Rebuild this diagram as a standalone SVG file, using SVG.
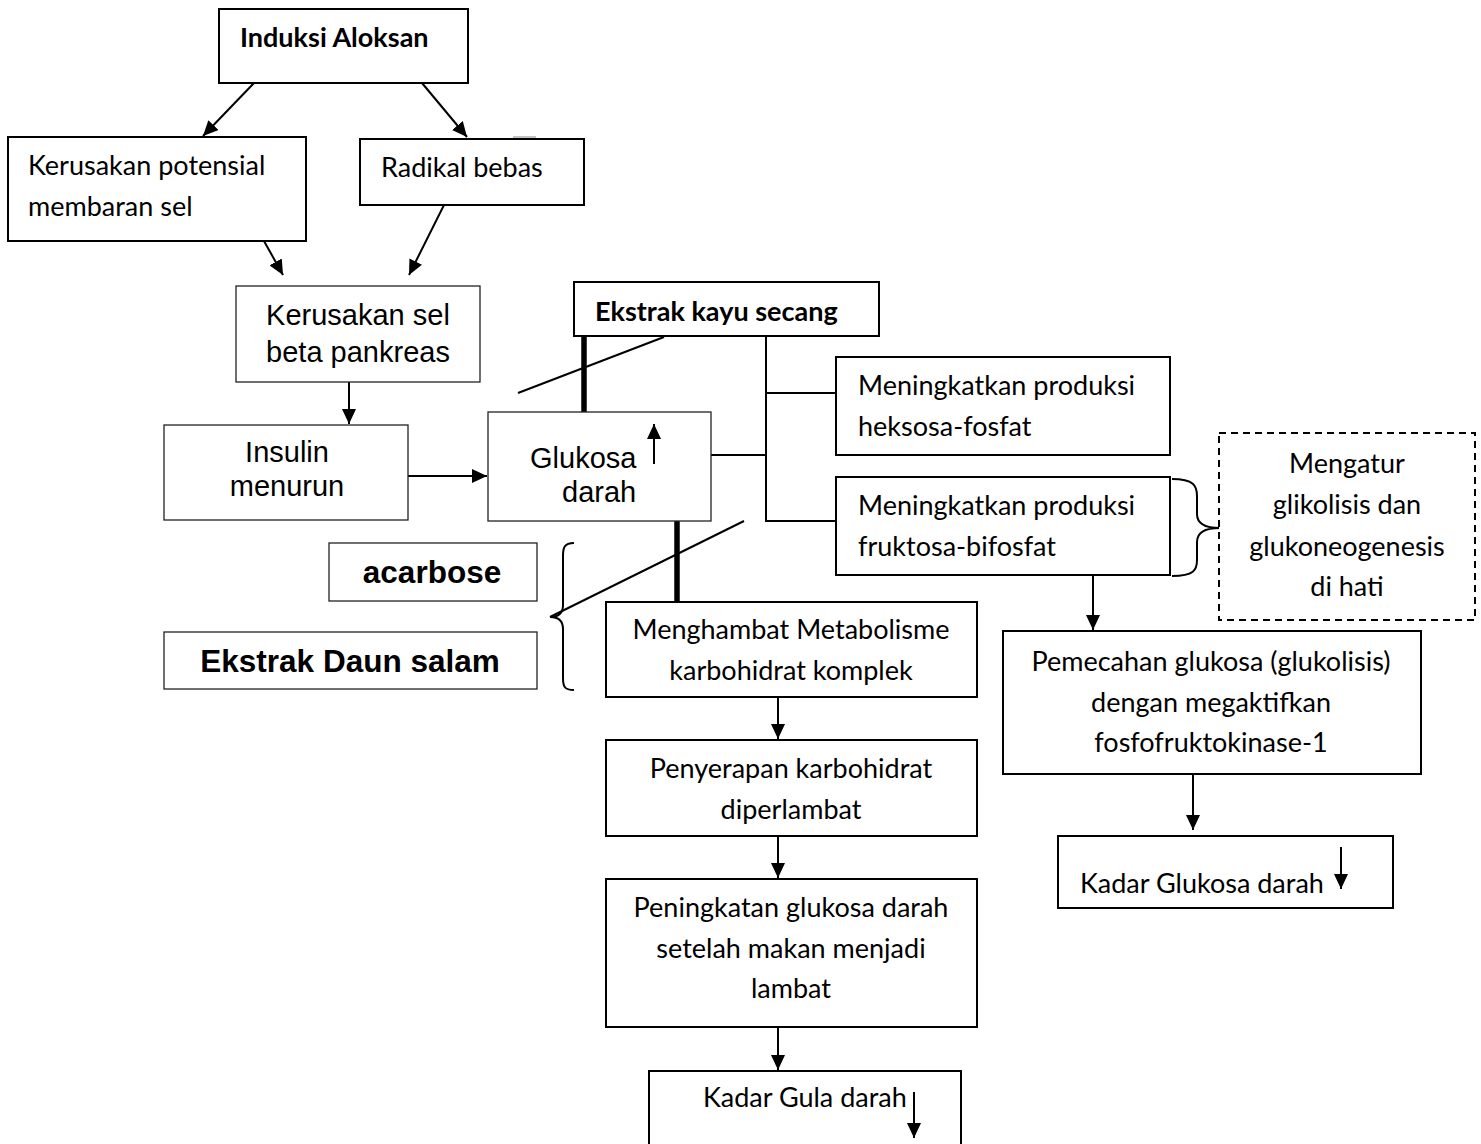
<svg xmlns="http://www.w3.org/2000/svg" width="1481" height="1144" viewBox="0 0 1481 1144">
<style>
.bx{fill:#fff;stroke:#000;stroke-width:2}
.ba{fill:#fff;stroke:#222;stroke-width:1.3}
.c{font-family:Lato,"Liberation Sans",sans-serif;font-size:27px;fill:#000}
.cb{font-family:Lato,"Liberation Sans",sans-serif;font-size:27px;font-weight:bold;fill:#000}
.a{font-family:"Liberation Sans",Arial,sans-serif;font-size:29px;fill:#000}
.ab{font-family:"Liberation Sans",Arial,sans-serif;font-size:31.5px;font-weight:bold;fill:#000}
.m{text-anchor:middle}
.ln{stroke:#000;stroke-width:2;fill:none}
.ar{stroke:#000;stroke-width:2;fill:none;marker-end:url(#ah)}
.thick{stroke:#000;stroke-width:5.5;fill:none}
</style>
<defs>
<marker id="ah" markerUnits="userSpaceOnUse" markerWidth="16" markerHeight="14" refX="15" refY="7" orient="auto">
<path d="M0,0 L15,7 L0,14 z" fill="#000"/>
</marker>
</defs>
<rect width="1481" height="1144" fill="#fff"/>

<g id="connectors">
<line class="ar" x1="254" y1="83" x2="203" y2="136"/>
<line class="ar" x1="422" y1="83" x2="467" y2="137"/>
<line class="ar" x1="264" y1="241" x2="283" y2="275"/>
<line class="ar" x1="444" y1="205" x2="409" y2="275"/>
<line class="ar" x1="349" y1="382" x2="349" y2="424"/>
<line class="ar" x1="408" y1="476" x2="487" y2="476"/>
<line class="thick" x1="584" y1="336" x2="584" y2="412"/>
<line class="ln" x1="518" y1="393" x2="664" y2="337"/>
<polyline class="ln" points="766,336 766,521 835,521"/>
<line class="ln" x1="766" y1="393" x2="835" y2="393"/>
<line class="ln" x1="711" y1="455" x2="766" y2="455"/>
<line class="thick" x1="677" y1="521" x2="677" y2="602"/>
<line class="ln" x1="744" y1="521" x2="550" y2="617"/>
<path class="ln" d="M574,543 C564,543 563,548 563,556 L563,605 C563,613 558,617 550,617 C558,617 563,621 563,629 L563,678 C563,686 564,690 574,690"/>
<path class="ln" d="M1172,479 C1194,479 1197,486 1197,496 L1197,514 C1197,524 1205,528 1220,528 C1205,528 1197,532 1197,542 L1197,560 C1197,570 1194,576 1172,576"/>
<line class="ar" x1="1093" y1="575" x2="1093" y2="630"/>
<line class="ar" x1="1193" y1="774" x2="1193" y2="830"/>
<line class="ar" x1="778" y1="697" x2="778" y2="739"/>
<line class="ar" x1="778" y1="836" x2="778" y2="878"/>
<line class="ar" x1="778" y1="1027" x2="778" y2="1070"/>
</g>

<g id="induksi">
<rect class="bx" x="219" y="9" width="249" height="74"/>
<text class="cb" x="240" y="47">Induksi Aloksan</text>
</g>
<g id="kerusakan-potensial">
<rect class="bx" x="8" y="137" width="298" height="104"/>
<text class="c" x="28" y="175">Kerusakan potensial</text>
<text class="c" x="28" y="216">membaran sel</text>
</g>
<g id="radikal">
<rect class="bx" x="360" y="139" width="224" height="66"/>
<line x1="513" y1="137" x2="536" y2="137" stroke="#888" stroke-width="1"/>
<text class="c" x="381" y="177">Radikal bebas</text>
</g>
<g id="kerusakan-beta">
<rect class="ba" x="236" y="286" width="244" height="96"/>
<text class="a m" x="358" y="325">Kerusakan sel</text>
<text class="a m" x="358" y="362">beta pankreas</text>
</g>
<g id="insulin">
<rect class="ba" x="164" y="425" width="244" height="95"/>
<text class="a m" x="287" y="462">Insulin</text>
<text class="a m" x="287" y="496">menurun</text>
</g>
<g id="glukosa">
<rect class="ba" x="488" y="412" width="223" height="109"/>
<text class="a" x="530" y="468">Glukosa</text>
<text class="a" x="562" y="502">darah</text>
<line class="ar" x1="654" y1="464" x2="654" y2="424"/>
</g>
<g id="ekstrak-secang">
<rect class="bx" x="574" y="282" width="305" height="54"/>
<text class="cb" x="595" y="321">Ekstrak kayu secang</text>
</g>
<g id="heksosa">
<rect class="bx" x="836" y="357" width="334" height="98"/>
<text class="c" x="858" y="395">Meningkatkan produksi</text>
<text class="c" x="858" y="436">heksosa-fosfat</text>
</g>
<g id="fruktosa">
<rect class="bx" x="836" y="477" width="334" height="98"/>
<text class="c" x="858" y="515">Meningkatkan produksi</text>
<text class="c" x="858" y="556">fruktosa-bifosfat</text>
</g>
<g id="mengatur">
<rect x="1219" y="433" width="256" height="187" fill="#fff" stroke="#000" stroke-width="2" stroke-dasharray="7,5"/>
<text class="c m" x="1347" y="473">Mengatur</text>
<text class="c m" x="1347" y="514">glikolisis dan</text>
<text class="c m" x="1347" y="556">glukoneogenesis</text>
<text class="c m" x="1347" y="596">di hati</text>
</g>
<g id="pemecahan">
<rect class="bx" x="1003" y="631" width="418" height="143"/>
<text class="c m" x="1211" y="671">Pemecahan glukosa (glukolisis)</text>
<text class="c m" x="1211" y="712">dengan megaktifkan</text>
<text class="c m" x="1211" y="752">fosfofruktokinase-1</text>
</g>
<g id="kadar-glukosa">
<rect class="bx" x="1058" y="836" width="335" height="72"/>
<text class="c" x="1080" y="893">Kadar Glukosa darah</text>
<line class="ar" x1="1341" y1="847" x2="1341" y2="889"/>
</g>
<g id="acarbose">
<rect class="ba" x="329" y="543" width="208" height="58"/>
<text class="ab m" x="432" y="583">acarbose</text>
</g>
<g id="daun-salam">
<rect class="ba" x="164" y="632" width="373" height="57"/>
<text class="ab m" x="350" y="672">Ekstrak Daun salam</text>
</g>
<g id="menghambat">
<rect class="bx" x="606" y="602" width="371" height="95"/>
<text class="c m" x="791" y="639">Menghambat Metabolisme</text>
<text class="c m" x="791" y="680">karbohidrat komplek</text>
</g>
<g id="penyerapan">
<rect class="bx" x="606" y="740" width="371" height="96"/>
<text class="c m" x="791" y="778">Penyerapan karbohidrat</text>
<text class="c m" x="791" y="819">diperlambat</text>
</g>
<g id="peningkatan">
<rect class="bx" x="606" y="879" width="371" height="148"/>
<text class="c m" x="791" y="917">Peningkatan glukosa darah</text>
<text class="c m" x="791" y="958">setelah makan menjadi</text>
<text class="c m" x="791" y="998">lambat</text>
</g>
<g id="kadar-gula">
<rect class="bx" x="649" y="1071" width="312" height="90"/>
<text class="c" x="703" y="1107">Kadar Gula darah</text>
<line class="ar" x1="914" y1="1092" x2="914" y2="1138"/>
</g>
</svg>
